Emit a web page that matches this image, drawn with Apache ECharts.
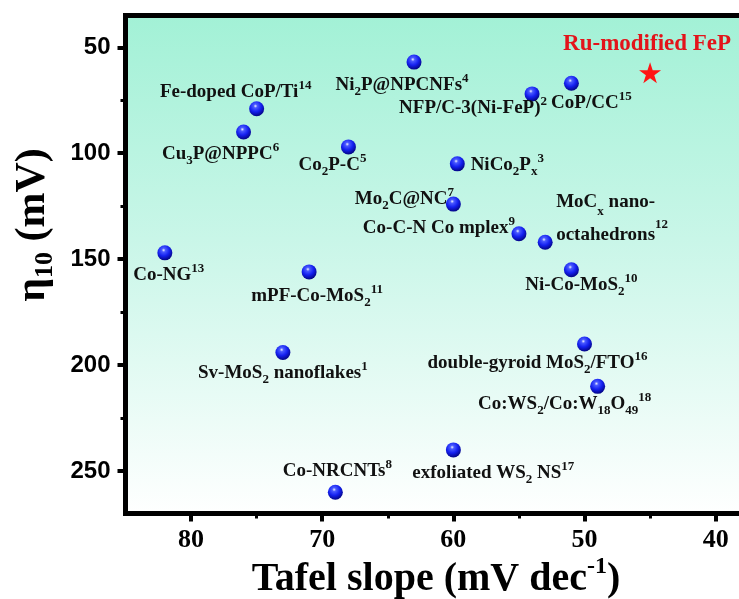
<!DOCTYPE html>
<html>
<head>
<meta charset="utf-8">
<script src="https://cdn.jsdelivr.net/npm/echarts@6/dist/echarts.min.js"></script>
<style>
  html, body { margin: 0; padding: 0; background: #ffffff; }
  #chart { width: 739px; height: 599px; }
</style>
</head>
<body>
<div id="chart"></div>
<script>
// Reported HER catalysts: name ({sub|..}/{sup|..} mark sub- and superscripts),
// Tafel slope (mV dec-1) and overpotential at 10 mA cm-2 (mV)
const catalysts = [
  'Fe-doped CoP/Ti{sup|14}',
  'Cu{sub|3}P@NPPC{sup|6}',
  'Co{sub|2}P-C{sup|5}',
  'Co-NG{sup|13}',
  'mPF-Co-MoS{sub|2}{sup|11}',
  'Sv-MoS{sub|2} nanoflakes{sup|1}',
  'Co-NRCNTs{sup|8}',
  'Ni{sub|2}P@NPCNFs{sup|4}',
  'NFP/C-3(Ni-FeP){sup|2}',
  'CoP/CC{sup|15}',
  'NiCo{sub|2}P{sub|x}{sup|3}',
  'Mo{sub|2}C@NC{sup|7}',
  'Co-C-N Co mplex{sup|9}',
  'MoC{sub|x} nano-\noctahedrons{sup|12}',
  'Ni-Co-MoS{sub|2}{sup|10}',
  'double-gyroid MoS{sub|2}/FTO{sup|16}',
  'Co:WS{sub|2}/Co:W{sub|18}O{sub|49}{sup|18}',
  'exfoliated WS{sub|2} NS{sup|17}'
];
const tafelSlope = [75, 76, 68, 82, 71, 73, 69, 63, 54, 51, 59.7, 60, 55, 53, 51, 50, 49, 60];
const overpotential = [79, 90, 97, 147, 156, 194, 260, 57, 72, 67, 105, 124, 138, 142, 155, 190, 210, 240];

// This work
const thisWorkName = 'Ru-modified FeP';
const thisWorkTafel = [45];
const thisWorkEta = [62];

// Axis ticks
const xMajorTicks = [40, 50, 60, 70, 80];
const xMinorTicks = [45, 55, 65, 75];
const yMajorTicks = [50, 100, 150, 200, 250];
const yMinorTicks = [75, 125, 175, 225];

// Label placement around each marker: [dx, dy, align, lineHeight]
const labelPlacement = [
  [-21, -17], [-23, 22], [-16, 18], [4, 22], [8, 24], [0, 21], [2, -21],
  [-12, 23], [-59, 14], [20, 20], [50, 1], [-49, -5], [-80, -6],
  [11, -24, 'left', 33], [10, 15], [-47, 19], [-33, 18], [40, 23]
];

const serif = 'Liberation Serif, Times New Roman, serif';
const sans = 'Liberation Sans, Arial, sans-serif';
const inkColor = '#111111';

function richFor(lh) {
  const common = { fontSize: 13, fontFamily: serif, fontWeight: 'bold', color: inkColor,
                   textBorderWidth: 0 };
  return {
    sup: Object.assign({}, common, { lineHeight: lh - 10, verticalAlign: 'top' }),
    sub: Object.assign({}, common, { lineHeight: lh - 14, verticalAlign: 'bottom' })
  };
}

const ballColor = new echarts.graphic.RadialGradient(0.42, 0.32, 0.7, [
  { offset: 0, color: '#eef0ff' },
  { offset: 0.18, color: '#4a5aff' },
  { offset: 0.55, color: '#1420f0' },
  { offset: 1, color: '#02037e' }
]);

const catalystData = catalysts.map((name, i) => {
  const p = labelPlacement[i];
  const lh = p[3] || 26;
  return {
    name: name,
    value: [tafelSlope[i], overpotential[i]],
    label: {
      offset: [p[0], p[1]],
      align: p[2] || 'center',
      lineHeight: lh,
      rich: richFor(lh)
    }
  };
});

const starPath = 'path://M50,0 L61.8,36.2 L100,36.2 L69.1,58.6 L80.9,95.1 L50,72.7 L19.1,95.1 L30.9,58.6 L0,36.2 L38.2,36.2 Z';

const chart = echarts.init(document.getElementById('chart'), null, { renderer: 'canvas' });

const xBase = { type: 'value', min: 37, max: 85, inverse: true, position: 'bottom',
                splitLine: { show: false }, axisLine: { show: false } };
const yBase = { type: 'value', min: 35, max: 270, inverse: true, position: 'left',
                splitLine: { show: false }, axisLine: { show: false } };

chart.setOption({
  animation: false,
  backgroundColor: '#ffffff',
  grid: {
    show: true,
    outerBoundsMode: 'none',
    containLabel: false,
    left: 125.5, top: 15.5, bottom: 85.5, right: -16,
    borderWidth: 5, borderColor: '#000000',
    backgroundColor: new echarts.graphic.LinearGradient(0, 0, 0, 1, [
      { offset: 0, color: '#a2f1d6' },
      { offset: 0.45, color: '#c9f6e8' },
      { offset: 1, color: '#ffffff' }
    ])
  },
  xAxis: [
    Object.assign({}, xBase, {
      axisTick: { show: true, length: 8, customValues: xMajorTicks,
                  lineStyle: { color: '#000', width: 4 } },
      axisLabel: { show: true, customValues: xMajorTicks, margin: 14,
                   fontFamily: serif, fontWeight: 'bold', fontSize: 26, color: '#000' }
    }),
    Object.assign({}, xBase, {
      axisTick: { show: true, length: 5, customValues: xMinorTicks,
                  lineStyle: { color: '#000', width: 3 } },
      axisLabel: { show: false }
    })
  ],
  yAxis: [
    Object.assign({}, yBase, {
      axisTick: { show: true, length: 8, customValues: yMajorTicks,
                  lineStyle: { color: '#000', width: 4 } },
      axisLabel: { show: true, customValues: yMajorTicks, margin: 15,
                   fontFamily: sans, fontWeight: 'bold', fontSize: 24, color: '#000' }
    }),
    Object.assign({}, yBase, {
      axisTick: { show: true, length: 5, customValues: yMinorTicks,
                  lineStyle: { color: '#000', width: 3 } },
      axisLabel: { show: false }
    })
  ],
  series: [
    {
      type: 'scatter',
      xAxisIndex: 0, yAxisIndex: 0,
      symbol: 'circle',
      symbolSize: 15,
      itemStyle: { color: ballColor, opacity: 1 },
      label: {
        show: true,
        position: 'inside',
        verticalAlign: 'middle',
        fontFamily: serif, fontWeight: 'bold', fontSize: 19, color: inkColor,
        textBorderWidth: 0, textShadowBlur: 0,
        formatter: (p) => catalysts[p.dataIndex]
      },
      emphasis: { disabled: true },
      data: catalystData,
      z: 3
    },
    {
      type: 'scatter',
      xAxisIndex: 0, yAxisIndex: 0,
      symbol: starPath,
      symbolSize: [22, 21],
      itemStyle: { color: '#ff1414', opacity: 1 },
      label: {
        show: true,
        position: 'inside',
        offset: [-3, -29],
        align: 'center', verticalAlign: 'middle',
        fontFamily: serif, fontWeight: 'bold', fontSize: 23, color: '#e3141a',
        textBorderWidth: 0, textShadowBlur: 0,
        formatter: () => thisWorkName
      },
      emphasis: { disabled: true },
      data: thisWorkTafel.map((x, i) => [x, thisWorkEta[i]]),
      z: 4
    }
  ],
  graphic: [
    {
      type: 'text',
      x: 436, y: 580,
      style: {
        text: 'Tafel slope (mV dec{sup|-1})',
        fontFamily: serif, fontWeight: 'bold', fontSize: 40, fill: '#000',
        align: 'center', verticalAlign: 'middle', lineHeight: 50,
        rich: {
          sup: { fontFamily: serif, fontWeight: 'bold', fontSize: 24, fill: '#000',
                 lineHeight: 32, verticalAlign: 'top' }
        }
      }
    },
    {
      type: 'text',
      x: 33, y: 225,
      rotation: Math.PI / 2,
      style: {
        text: 'η{sub|10} (mV)',
        fontFamily: serif, fontWeight: 'bold', fontSize: 42, fill: '#000',
        align: 'center', verticalAlign: 'middle', lineHeight: 50,
        rich: {
          sub: { fontFamily: serif, fontWeight: 'bold', fontSize: 26, fill: '#000',
                 lineHeight: 32, verticalAlign: 'bottom' }
        }
      }
    }
  ]
});
</script>
</body>
</html>
